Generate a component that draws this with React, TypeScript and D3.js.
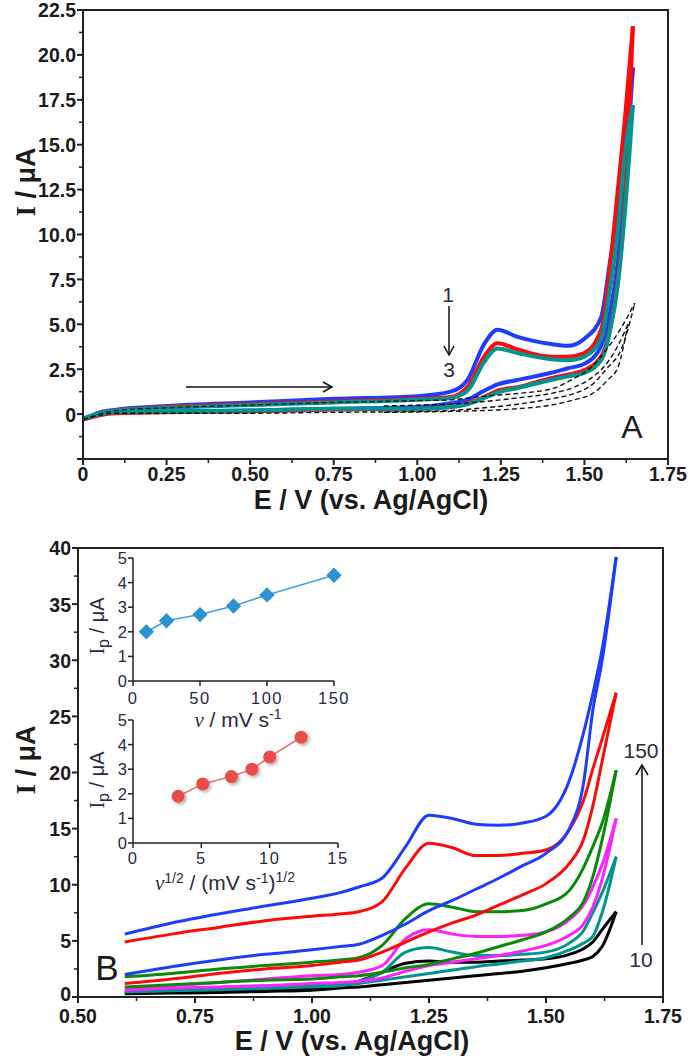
import React from 'react';
import * as d3 from 'd3';

// ---------- Panel A data ----------
const E_A = [0, 0.05, 0.1, 0.25, 0.5, 0.75, 1.0, 1.1, 1.15, 1.2, 1.24, 1.3, 1.4, 1.45, 1.5, 1.55, 1.575, 1.6, 1.62, 1.645];
const A1_FWD = [-0.3, 0.1, 0.25, 0.45, 0.65, 0.85, 1.0, 1.25, 1.9, 3.9, 4.7, 4.3, 3.9, 3.8, 4.2, 5.4, 8.3, 11.5, 14.5, 19.3];
const A1_REV = [-0.3, -0.05, 0.1, 0.15, 0.2, 0.3, 0.4, 0.6, 0.8, 1.3, 1.65, 1.9, 2.3, 2.55, 2.8, 3.8, 5.5, 8.5, 12.5, 19.3];
const A2_FWD = [-0.3, 0.05, 0.2, 0.4, 0.55, 0.7, 0.85, 0.95, 1.5, 3.2, 3.95, 3.6, 3.2, 3.2, 3.4, 4.7, 8.0, 12.5, 16.2, 21.6];
const A2_REV = [-0.3, -0.05, 0.05, 0.1, 0.15, 0.25, 0.3, 0.4, 0.6, 0.95, 1.3, 1.5, 2.0, 2.2, 2.45, 3.2, 4.6, 7.5, 11.5, 21.6];
const A3_FWD = [-0.25, 0.05, 0.2, 0.35, 0.5, 0.65, 0.8, 0.9, 1.3, 2.9, 3.65, 3.4, 3.05, 3.0, 3.2, 4.2, 6.8, 10.2, 14.3, 17.2];
const A3_REV = [-0.25, 0.0, 0.1, 0.15, 0.2, 0.3, 0.3, 0.4, 0.55, 0.9, 1.2, 1.45, 1.9, 2.1, 2.3, 3.0, 4.5, 7.2, 11.0, 17.2];

const E_DASH = [0, 0.1, 0.25, 0.5, 0.75, 1.0, 1.1, 1.2, 1.3, 1.4, 1.47, 1.52, 1.57, 1.61, 1.651];
const DASH1_FWD = [-0.3, 0.2, 0.35, 0.5, 0.65, 0.75, 0.8, 1.0, 1.15, 1.4, 2.0, 2.6, 3.7, 4.8, 6.2];
const DASH1_REV = [-0.3, 0.05, 0.05, 0.05, 0.1, 0.15, 0.2, 0.35, 0.55, 0.85, 1.15, 1.6, 2.6, 3.6, 6.2];
const E_DASH2 = [0.9, 1.0, 1.1, 1.2, 1.3, 1.4, 1.47, 1.52, 1.57, 1.6, 1.63];
const DASH2_FWD = [0.45, 0.5, 0.55, 0.7, 0.9, 1.15, 1.5, 2.0, 2.9, 3.8, 5.0];
const DASH2_REV = [0.1, 0.12, 0.15, 0.2, 0.3, 0.5, 0.8, 1.1, 1.9, 2.6, 5.0];

const A_X_TICKS = [0, 0.25, 0.5, 0.75, 1.0, 1.25, 1.5, 1.75];
const A_X_LABELS = ['0', '0.25', '0.50', '0.75', '1.00', '1.25', '1.50', '1.75'];
const A_Y_TICKS = [-2.5, 0, 2.5, 5, 7.5, 10, 12.5, 15, 17.5, 20, 22.5];
const A_Y_LABELS = ['', '0', '2.5', '5.0', '7.5', '10.0', '12.5', '15.0', '17.5', '20.0', '22.5'];

// ---------- Panel B data ----------
const E_B = [0.6, 0.7, 0.8, 0.9, 1.0, 1.06, 1.1, 1.15, 1.2, 1.25, 1.3, 1.35, 1.4, 1.45, 1.5, 1.55, 1.58, 1.6, 1.62, 1.65];
const B150_FWD = [5.6, 6.6, 7.4, 8.1, 8.8, 9.3, 9.8, 10.6, 13.4, 16.2, 15.9, 15.4, 15.3, 15.5, 16.1, 19.3, 23.5, 27.0, 31.0, 39.2];
const B150_REV = [2.0, 2.7, 3.3, 3.8, 4.2, 4.5, 4.7, 5.5, 6.5, 7.7, 8.6, 9.6, 10.6, 11.7, 12.8, 15.0, 19.0, 25.5, 30.0, 39.2];
const B100_FWD = [4.9, 5.6, 6.2, 6.8, 7.2, 7.4, 7.6, 8.5, 11.5, 13.7, 13.3, 12.6, 12.6, 12.8, 13.1, 14.9, 17.5, 20.3, 23.0, 27.1];
const B100_REV = [1.2, 1.6, 2.1, 2.5, 2.8, 3.1, 3.3, 4.0, 4.9, 5.8, 6.6, 7.3, 8.2, 9.1, 10.1, 11.9, 14.0, 17.0, 21.0, 27.1];
const B75_FWD = [1.8, 2.1, 2.5, 2.8, 3.1, 3.3, 3.5, 4.6, 7.0, 8.3, 8.0, 7.6, 7.6, 7.7, 8.3, 9.5, 11.5, 13.4, 15.5, 20.2];
const B75_REV = [0.9, 1.1, 1.3, 1.5, 1.6, 1.8, 1.9, 2.2, 2.6, 2.9, 3.4, 3.9, 4.5, 5.1, 5.8, 7.1, 8.5, 10.7, 14.0, 20.2];
const B50_FWD = [0.8, 1.0, 1.3, 1.6, 1.9, 2.0, 2.2, 2.8, 5.2, 6.0, 5.6, 5.4, 5.4, 5.5, 5.8, 6.9, 8.2, 9.8, 11.8, 15.9];
const B50_REV = [0.6, 0.8, 0.9, 1.0, 1.2, 1.3, 1.4, 1.7, 2.3, 2.8, 3.1, 3.4, 3.7, 4.1, 4.6, 5.5, 6.5, 8.0, 10.5, 15.9];
const B25_FWD = [0.55, 0.7, 0.85, 1.0, 1.1, 1.2, 1.4, 2.2, 4.0, 4.4, 4.0, 3.7, 3.7, 3.8, 4.0, 4.8, 5.9, 7.5, 9.3, 12.5];
const B25_REV = [0.45, 0.55, 0.65, 0.75, 0.9, 1.0, 1.2, 1.5, 1.8, 2.1, 2.4, 2.7, 2.95, 3.2, 3.5, 4.2, 4.8, 5.4, 7.5, 12.5];
const B10_FWD = [0.4, 0.5, 0.6, 0.7, 0.8, 1.0, 1.4, 2.2, 3.0, 3.2, 3.1, 3.1, 3.2, 3.3, 3.4, 3.8, 4.3, 4.9, 6.0, 7.6];
const B10_REV = [0.3, 0.35, 0.4, 0.5, 0.6, 0.8, 0.9, 1.1, 1.3, 1.5, 1.7, 1.9, 2.1, 2.3, 2.6, 3.0, 3.3, 3.6, 4.5, 7.6];

const B_X_TICKS = [0.5, 0.75, 1.0, 1.25, 1.5, 1.75];
const B_X_LABELS = ['0.50', '0.75', '1.00', '1.25', '1.50', '1.75'];
const B_Y_TICKS = [0, 5, 10, 15, 20, 25, 30, 35, 40];
const B_Y_LABELS = ['0', '5', '10', '15', '20', '25', '30', '35', '40'];

// ---------- Insets ----------
const SCAN_RATE = [10, 25, 50, 75, 100, 150];
const IP_VS_V = [2.0, 2.45, 2.7, 3.05, 3.5, 4.3];
const SQRT_RATE = [3.3, 5.1, 7.2, 8.7, 10.0, 12.3];
const IP_VS_SQRT = [1.9, 2.4, 2.7, 3.0, 3.5, 4.3];
const INSET1_X_TICKS = [0, 50, 100, 150];
const INSET2_X_TICKS = [0, 5, 10, 15];
const INSET_Y_TICKS = [0, 1, 2, 3, 4, 5];

const FONT = "'Liberation Sans', Arial, sans-serif";
const SERIF = "'Liberation Serif', 'Times New Roman', serif";
const TXT = '#1b1b1b';

const BLUE = '#1f3dff';
const RED = '#ff0a0a';
const TEAL = '#00968f';
const GREEN = '#0a8a0a';
const MAGENTA = '#ff22ff';
const BLACK = '#000000';

type Scale = d3.ScaleLinear<number, number>;

function zip(xs: number[], ys: number[]): [number, number][] {
  return xs.map((x, i) => [x, ys[i]]);
}

function Path({ xs, ys, x, y, color, width, dash }: { xs: number[]; ys: number[]; x: Scale; y: Scale; color: string; width: number; dash?: string }) {
  const gen = d3.line<[number, number]>().x(d => x(d[0])).y(d => y(d[1])).curve(d3.curveMonotoneX);
  return <path d={gen(zip(xs, ys)) || ''} fill="none" stroke={color} strokeWidth={width} strokeDasharray={dash} strokeLinejoin="round" strokeLinecap="butt" />;
}

function MainAxes({ x, y, xt, xl, yt, yl, xLabelY }: { x: Scale; y: Scale; xt: number[]; xl: string[]; yt: number[]; yl: string[]; xLabelY: number }) {
  const [x0, x1] = x.range();
  const [y0, y1] = y.range(); // y0 bottom
  const yMin = y.domain()[0];
  const minorX = xt.slice(0, -1).map((v, i) => (v + xt[i + 1]) / 2);
  const minorY = yt.slice(0, -1).map((v, i) => (v + yt[i + 1]) / 2);
  return (
    <g>
      <rect x={x0} y={y1} width={x1 - x0} height={y0 - y1} fill="none" stroke="#222" strokeWidth={2} />
      {xt.map((v, i) => (
        <g key={'xt' + i}>
          <line x1={x(v)} x2={x(v)} y1={y0} y2={y0 + 6} stroke="#222" strokeWidth={2} />
          <text x={x(v)} y={xLabelY} textAnchor="middle" fontFamily={FONT} fontWeight="bold" fontSize={19.5} fill={TXT}>{xl[i]}</text>
        </g>
      ))}
      {minorX.map((v, i) => <line key={'xm' + i} x1={x(v)} x2={x(v)} y1={y0} y2={y0 + 4} stroke="#222" strokeWidth={1.5} />)}
      {yt.map((v, i) => (
        <g key={'yt' + i}>
          <line x1={x0 - 6} x2={x0} y1={y(v)} y2={y(v)} stroke="#222" strokeWidth={2} />
          <text x={x0 - 7} y={y(v)} dy={v === yMin ? '0.18em' : '0.38em'} textAnchor="end" fontFamily={FONT} fontWeight="bold" fontSize={19.5} fill={TXT}>{yl[i]}</text>
        </g>
      ))}
      {minorY.map((v, i) => <line key={'ym' + i} x1={x0 - 4} x2={x0} y1={y(v)} y2={y(v)} stroke="#222" strokeWidth={1.5} />)}
    </g>
  );
}

function InsetAxes({ x, y, xt, labelDy }: { x: Scale; y: Scale; xt: number[]; labelDy: number }) {
  const [x0, x1] = x.range();
  const [y0, y1] = y.range();
  return (
    <g>
      <line x1={x0} x2={x0} y1={y1} y2={y0} stroke="#222" strokeWidth={1.5} />
      <line x1={x0} x2={x1} y1={y0} y2={y0} stroke="#222" strokeWidth={1.5} />
      {INSET_Y_TICKS.map((v, i) => (
        <g key={'iy' + i}>
          <line x1={x0 - 5} x2={x0} y1={y(v)} y2={y(v)} stroke="#222" strokeWidth={1.5} />
          <text x={x0 - 6} y={y(v)} dy="0.36em" textAnchor="end" fontFamily={FONT} fontSize={16.5} fill="#2a2a40">{v}</text>
        </g>
      ))}
      {xt.map((v, i) => (
        <g key={'ix' + i}>
          <line x1={x(v)} x2={x(v)} y1={y0} y2={y0 + 5} stroke="#222" strokeWidth={1.5} />
          <text x={x(v)} y={y0 + labelDy} textAnchor="middle" fontFamily={FONT} fontSize={16.5} fill="#2a2a40" letterSpacing="1.5">{v}</text>
        </g>
      ))}
    </g>
  );
}

function OpenArrowHead({ x, y, dir }: { x: number; y: number; dir: 'right' | 'down' | 'up' }) {
  let d = '';
  if (dir === 'right') d = `M${x - 9},${y - 5} L${x},${y} L${x - 9},${y + 5}`;
  if (dir === 'down') d = `M${x - 5},${y - 9} L${x},${y} L${x + 5},${y - 9}`;
  if (dir === 'up') d = `M${x - 6},${y + 10} L${x},${y} L${x + 6},${y + 10}`;
  return <path d={d} fill="none" stroke="#111" strokeWidth={1.5} />;
}

export default function App() {
  // Panel A scales
  const xA = d3.scaleLinear().domain([0, 1.75]).range([83, 668]);
  const yA = d3.scaleLinear().domain([-2.5, 22.5]).range([459, 10]);
  // Panel B scales
  const xB = d3.scaleLinear().domain([0.5, 1.75]).range([78, 663]);
  const yB = d3.scaleLinear().domain([0, 40]).range([997, 548]);
  // Insets
  const xI1 = d3.scaleLinear().domain([0, 150]).range([133, 334]);
  const yI1 = d3.scaleLinear().domain([0, 5]).range([681, 558]);
  const xI2 = d3.scaleLinear().domain([0, 15]).range([133, 338]);
  const yI2 = d3.scaleLinear().domain([0, 5]).range([843, 720]);

  const inset1Line = d3.line<[number, number]>().x(d => xI1(d[0])).y(d => yI1(d[1]));
  const inset2Line = d3.line<[number, number]>().x(d => xI2(d[0])).y(d => yI2(d[1]));
  const diamond = d3.symbol().type(d3.symbolDiamond2).size(150)() || '';

  const bSeries: { f: number[]; r: number[]; c: string }[] = [
    { f: B10_FWD, r: B10_REV, c: BLACK },
    { f: B25_FWD, r: B25_REV, c: TEAL },
    { f: B50_FWD, r: B50_REV, c: MAGENTA },
    { f: B75_FWD, r: B75_REV, c: GREEN },
    { f: B100_FWD, r: B100_REV, c: RED },
    { f: B150_FWD, r: B150_REV, c: BLUE },
  ];

  return (
    <svg width={688} height={1056} style={{ position: 'absolute', left: 0, top: 0, background: '#fff' }}>
      <defs>
        <filter id="shadow" x="-50%" y="-50%" width="200%" height="200%">
          <feDropShadow dx="2" dy="2" stdDeviation="1.5" floodColor="#000" floodOpacity="0.3" />
        </filter>
      </defs>
      <rect x={0} y={0} width={688} height={1056} fill="#fff" />

      {/* ---------- Panel A ---------- */}
      <g>
        <Path xs={E_A} ys={A1_FWD} x={xA} y={yA} color={BLUE} width={4} />
        <Path xs={E_A} ys={A1_REV} x={xA} y={yA} color={BLUE} width={4} />
        <Path xs={E_A} ys={A2_FWD} x={xA} y={yA} color={RED} width={4} />
        <Path xs={E_A} ys={A2_REV} x={xA} y={yA} color={RED} width={4} />
        <Path xs={E_A} ys={A3_FWD} x={xA} y={yA} color={TEAL} width={4} />
        <Path xs={E_A} ys={A3_REV} x={xA} y={yA} color={TEAL} width={4} />
        <Path xs={E_DASH} ys={DASH1_FWD} x={xA} y={yA} color="#111" width={1.4} dash="5,3" />
        <Path xs={E_DASH} ys={DASH1_REV} x={xA} y={yA} color="#111" width={1.4} dash="5,3" />
        <Path xs={E_DASH2} ys={DASH2_FWD} x={xA} y={yA} color="#111" width={1.4} dash="5,3" />
        <Path xs={E_DASH2} ys={DASH2_REV} x={xA} y={yA} color="#111" width={1.4} dash="5,3" />
        <MainAxes x={xA} y={yA} xt={A_X_TICKS} xl={A_X_LABELS} yt={A_Y_TICKS} yl={A_Y_LABELS} xLabelY={481} />
        <text x={371} y={509} textAnchor="middle" fontFamily={FONT} fontWeight="bold" fontSize={27} fill={TXT}>E / V (vs. Ag/AgCl)</text>
        <text transform="translate(35,182) rotate(-90)" textAnchor="middle" fontFamily={FONT} fontWeight="bold" fontSize={27} fill={TXT}>
          <tspan fontFamily={SERIF}>I</tspan> / μA
        </text>
        <text x={632} y={438} textAnchor="middle" fontFamily={FONT} fontSize={32} fill={TXT}>A</text>
        {/* scan direction arrow */}
        <line x1={186} x2={331} y1={387} y2={387} stroke="#111" strokeWidth={1.5} />
        <OpenArrowHead x={332} y={387} dir="right" />
        {/* cycle labels */}
        <text x={448} y={302} textAnchor="middle" fontFamily={FONT} fontSize={21} fill="#2a2a40">1</text>
        <line x1={449} x2={449} y1={306} y2={354} stroke="#111" strokeWidth={1.5} />
        <OpenArrowHead x={449} y={355} dir="down" />
        <text x={449} y={377} textAnchor="middle" fontFamily={FONT} fontSize={21} fill="#2a2a40">3</text>
      </g>

      {/* ---------- Panel B ---------- */}
      <g>
        {bSeries.map((s, i) => (
          <g key={'b' + i}>
            <Path xs={E_B} ys={s.r} x={xB} y={yB} color={s.c} width={3} />
            <Path xs={E_B} ys={s.f} x={xB} y={yB} color={s.c} width={3} />
          </g>
        ))}
        <MainAxes x={xB} y={yB} xt={B_X_TICKS} xl={B_X_LABELS} yt={B_Y_TICKS} yl={B_Y_LABELS} xLabelY={1023} />
        <text x={352} y={1050} textAnchor="middle" fontFamily={FONT} fontWeight="bold" fontSize={27} fill={TXT}>E / V (vs. Ag/AgCl)</text>
        <text transform="translate(35,760) rotate(-90)" textAnchor="middle" fontFamily={FONT} fontWeight="bold" fontSize={27} fill={TXT}>
          <tspan fontFamily={SERIF}>I</tspan> / μA
        </text>
        <text x={107} y={980} textAnchor="middle" fontFamily={FONT} fontSize={35} fill={TXT}>B</text>
        <line x1={642} x2={642} y1={945} y2={767} stroke="#111" strokeWidth={1.5} />
        <OpenArrowHead x={642} y={765} dir="up" />
        <text x={641} y={758} textAnchor="middle" fontFamily={FONT} fontSize={21} fill="#2a2a40">150</text>
        <text x={641} y={967} textAnchor="middle" fontFamily={FONT} fontSize={21} fill="#2a2a40">10</text>

        {/* Inset 1: Ip vs v */}
        <InsetAxes x={xI1} y={yI1} xt={INSET1_X_TICKS} labelDy={23} />
        <path d={inset1Line(zip(SCAN_RATE, IP_VS_V)) || ''} fill="none" stroke="#4aa0d8" strokeWidth={1.6} />
        {SCAN_RATE.map((v, i) => (
          <path key={'d' + i} d={diamond} transform={`translate(${xI1(v)},${yI1(IP_VS_V[i])})`} fill="#2b93d1" />
        ))}
        <text x={238} y={727} textAnchor="middle" fontFamily={FONT} fontSize={21} fill="#2a2a40">
          <tspan fontStyle="italic" fontFamily={SERIF}>v</tspan> / mV s<tspan dy={-8} fontSize={14}>-1</tspan>
        </text>
        <text transform="translate(104,626) rotate(-90)" textAnchor="middle" fontFamily={FONT} fontSize={20} fill="#2a2a40">
          <tspan fontFamily={SERIF}>I</tspan><tspan dy={5} fontSize={16}>p</tspan><tspan dy={-5}> / μA</tspan>
        </text>

        {/* Inset 2: Ip vs v^1/2 */}
        <InsetAxes x={xI2} y={yI2} xt={INSET2_X_TICKS} labelDy={21} />
        <path d={inset2Line(zip(SQRT_RATE, IP_VS_SQRT)) || ''} fill="none" stroke="#f07474" strokeWidth={1.6} />
        {SQRT_RATE.map((v, i) => (
          <circle key={'c' + i} cx={xI2(v)} cy={yI2(IP_VS_SQRT[i])} r={6.5} fill="#ec4b4b" filter="url(#shadow)" />
        ))}
        <text x={225} y={890} textAnchor="middle" fontFamily={FONT} fontSize={21} fill="#2a2a40">
          <tspan fontStyle="italic" fontFamily={SERIF}>v</tspan><tspan dy={-7} fontSize={14}>1/2</tspan><tspan dy={7}> / (mV s</tspan><tspan dy={-7} fontSize={14}>-1</tspan><tspan dy={7}>)</tspan><tspan dy={-8} fontSize={14}>1/2</tspan>
        </text>
        <text transform="translate(104,780) rotate(-90)" textAnchor="middle" fontFamily={FONT} fontSize={20} fill="#2a2a40">
          <tspan fontFamily={SERIF}>I</tspan><tspan dy={5} fontSize={16}>p</tspan><tspan dy={-5}> / μA</tspan>
        </text>
      </g>
    </svg>
  );
}
